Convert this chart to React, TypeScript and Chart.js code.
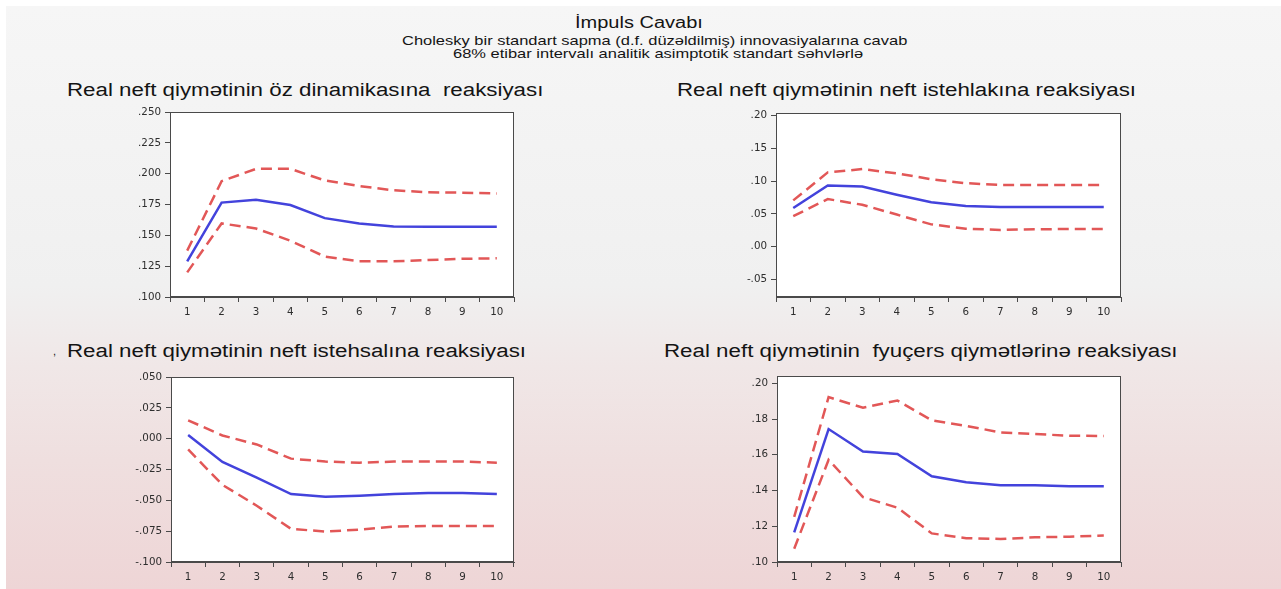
import React, { useEffect, useRef } from "react";
import { Chart, registerables } from "chart.js";

Chart.register(...registerables);

// ---------- data ----------
const periods = ["1", "2", "3", "4", "5", "6", "7", "8", "9", "10"];

// Panel 1: own dynamics
const p1Response = [0.129, 0.1766, 0.179, 0.1747, 0.164, 0.1597, 0.1573, 0.157, 0.157, 0.157];
const p1Upper = [0.1376, 0.194, 0.204, 0.204, 0.1946, 0.19, 0.1866, 0.185, 0.1847, 0.184];
const p1Lower = [0.12, 0.1597, 0.1556, 0.1457, 0.1328, 0.129, 0.129, 0.13, 0.131, 0.1314];
const p1TickValues = [0.1, 0.125, 0.15, 0.175, 0.2, 0.225, 0.25];
const p1TickLabels = [".100", ".125", ".150", ".175", ".200", ".225", ".250"];

// Panel 2: oil consumption
const p2Response = [0.059, 0.0934, 0.092, 0.0793, 0.0677, 0.0622, 0.0607, 0.0607, 0.0607, 0.0607];
const p2Upper = [0.0707, 0.1135, 0.1185, 0.112, 0.103, 0.097, 0.0944, 0.0944, 0.0944, 0.0944];
const p2Lower = [0.0466, 0.0727, 0.064, 0.049, 0.034, 0.0275, 0.0255, 0.0265, 0.027, 0.027];
const p2TickValues = [-0.05, 0.0, 0.05, 0.1, 0.15, 0.2];
const p2TickLabels = ["-.05", ".00", ".05", ".10", ".15", ".20"];

// Panel 3: oil production
const p3Response = [0.003, -0.0188, -0.0315, -0.0449, -0.047, -0.0462, -0.0449, -0.0441, -0.0441, -0.0449];
const p3Upper = [0.015, 0.0027, -0.0046, -0.0161, -0.0185, -0.0194, -0.0185, -0.0185, -0.0185, -0.0194];
const p3Lower = [-0.0086, -0.0374, -0.0543, -0.0731, -0.0753, -0.0737, -0.0712, -0.0707, -0.0707, -0.0707];
const p3TickValues = [-0.1, -0.075, -0.05, -0.025, 0.0, 0.025, 0.05];
const p3TickLabels = ["-.100", "-.075", "-.050", "-.025", ".000", ".025", ".050"];

// Panel 4: futures prices
const p4Response = [0.1166, 0.1744, 0.1618, 0.1605, 0.148, 0.1446, 0.143, 0.143, 0.1424, 0.1424];
const p4Upper = [0.1253, 0.1923, 0.1863, 0.1904, 0.1793, 0.1762, 0.1725, 0.1716, 0.1707, 0.1705];
const p4Lower = [0.1074, 0.1572, 0.1363, 0.1304, 0.116, 0.1133, 0.1129, 0.1138, 0.1142, 0.1148];
const p4TickValues = [0.1, 0.12, 0.14, 0.16, 0.18, 0.2];
const p4TickLabels = [".10", ".12", ".14", ".16", ".18", ".20"];

const mainTitle = "İmpuls Cavabı";
const subTitle1 = "Cholesky bir standart sapma (d.f. düzəldilmiş) innovasiyalarına cavab";
const subTitle2 = "68% etibar intervalı analitik asimptotik standart səhvlərlə";
const panelTitles = [
  "Real neft qiymətinin öz dinamikasına  reaksiyası",
  "Real neft qiymətinin neft istehlakına reaksiyası",
  "Real neft qiymətinin neft istehsalına reaksiyası",
  "Real neft qiymətinin  fyuçers qiymətlərinə reaksiyası",
];

// ---------- styles ----------
const FONT = "'Liberation Sans', Arial, Helvetica, sans-serif";
const TICK_FONT = "'DejaVu Sans', Verdana, sans-serif";
const BLUE = "#4343dc";
const RED = "#e25757";
const AXIS = "#4a4a4a";

const boxPlugin = {
  id: "plotBox",
  beforeDraw(chart: any) {
    const { ctx, chartArea } = chart;
    if (!chartArea) return;
    ctx.save();
    ctx.fillStyle = "#ffffff";
    ctx.fillRect(chartArea.left, chartArea.top, chartArea.right - chartArea.left, chartArea.bottom - chartArea.top);
    ctx.restore();
  },
  afterDraw(chart: any) {
    const { ctx, chartArea } = chart;
    if (!chartArea) return;
    ctx.save();
    ctx.strokeStyle = AXIS;
    ctx.lineWidth = 1;
    const l = Math.round(chartArea.left) + 0.5;
    const t = Math.round(chartArea.top) + 0.5;
    const r = Math.round(chartArea.right) - 0.5;
    const b = Math.round(chartArea.bottom) - 0.5;
    ctx.strokeRect(l, t, r - l, b - t);
    ctx.restore();
  },
};

type PanelProps = {
  response: number[];
  upper: number[];
  lower: number[];
  min: number;
  max: number;
  tickValues: number[];
  tickLabels: string[];
  left: number;
  top: number;
  width: number;
  height: number;
};

function Panel(props: PanelProps) {
  const ref = useRef<HTMLCanvasElement | null>(null);
  useEffect(() => {
    if (!ref.current) return;
    const { response, upper, lower, min, max, tickValues, tickLabels } = props;
    const tickFont = { family: TICK_FONT, size: 10.3 };
    const chart = new Chart(ref.current, {
      type: "line",
      data: {
        labels: periods,
        datasets: [
          { data: upper, borderColor: RED, borderWidth: 2.5, borderDash: [11, 6], pointRadius: 0, fill: false, tension: 0 },
          { data: lower, borderColor: RED, borderWidth: 2.5, borderDash: [11, 6], pointRadius: 0, fill: false, tension: 0 },
          { data: response, borderColor: BLUE, borderWidth: 2.5, pointRadius: 0, fill: false, tension: 0 },
        ],
      },
      options: {
        animation: false,
        responsive: false,
        maintainAspectRatio: false,
        devicePixelRatio: 1,
        layout: { padding: { top: 8, right: 1, bottom: 0, left: 0 } },
        plugins: { legend: { display: false }, tooltip: { enabled: false }, title: { display: false } },
        scales: {
          x: {
            type: "category",
            offset: true,
            grid: { display: true, drawOnChartArea: false, drawTicks: true, tickLength: 5, offset: true, color: AXIS },
            border: { display: true, color: AXIS },
            ticks: { font: tickFont, color: "#2e2e2e", padding: 4, maxRotation: 0, autoSkip: false },
            afterFit: (s: any) => {
              s.height = 25;
            },
          },
          y: {
            type: "linear",
            min,
            max,
            grid: { display: true, drawOnChartArea: false, drawTicks: true, tickLength: 5, color: AXIS },
            border: { display: true, color: AXIS },
            ticks: {
              font: tickFont,
              color: "#2e2e2e",
              padding: 4,
              callback: (v: any) => {
                const i = tickValues.findIndex((t) => Math.abs(t - Number(v)) < 1e-9);
                return i >= 0 ? tickLabels[i] : "";
              },
            },
            afterBuildTicks: (s: any) => {
              s.ticks = tickValues.map((v) => ({ value: v }));
            },
            afterFit: (s: any) => {
              s.width = 60;
            },
          },
        },
      },
      plugins: [boxPlugin],
    } as any);
    return () => chart.destroy();
  }, []);
  return (
    <canvas
      ref={ref}
      width={props.width}
      height={props.height}
      style={{ position: "absolute", left: props.left, top: props.top, width: props.width, height: props.height }}
    />
  );
}

function Txt(p: { text: string; left: number; top: number; size: number; stretch: number }) {
  return (
    <div
      style={{
        position: "absolute",
        left: p.left,
        top: p.top,
        fontFamily: FONT,
        fontSize: p.size,
        lineHeight: 1,
        whiteSpace: "pre",
        color: "#141414",
        transform: `scaleX(${p.stretch})`,
        transformOrigin: "0 0",
      }}
    >
      {p.text}
    </div>
  );
}

export default function App() {
  return (
    <div style={{ position: "absolute", left: 0, top: 0, width: 1281, height: 589, background: "#ffffff", overflow: "hidden" }}>
      <div
        style={{
          position: "absolute",
          left: 6,
          top: 6,
          width: 1275,
          height: 583,
          background: "linear-gradient(to bottom, #f6f6f6 0%, #f0f0f0 48%, #f0e7e7 62%, #efdfdf 78%, #eed5d6 100%)",
        }}
      />
      <Txt text={mainTitle} left={575} top={15.2} size={16} stretch={1.25} />
      <Txt text={subTitle1} left={402} top={33.9} size={13.5} stretch={1.22} />
      <Txt text={subTitle2} left={453} top={47.3} size={13.5} stretch={1.22} />

      <Txt text={panelTitles[0]} left={66.7} top={80.5} size={18} stretch={1.24} />
      <Txt text={panelTitles[1]} left={676.7} top={80.5} size={18} stretch={1.24} />
      <Txt text="," left={53} top={346} size={11} stretch={1} />
      <Txt text={panelTitles[2]} left={66.7} top={341.8} size={18} stretch={1.24} />
      <Txt text={panelTitles[3]} left={664} top={341.8} size={18} stretch={1.24} />

      <Panel response={p1Response} upper={p1Upper} lower={p1Lower} min={0.1} max={0.25}
        tickValues={p1TickValues} tickLabels={p1TickLabels} left={110} top={102} width={405} height={220} />
      <Panel response={p2Response} upper={p2Upper} lower={p2Lower} min={-0.077} max={0.204}
        tickValues={p2TickValues} tickLabels={p2TickLabels} left={716} top={103} width={406} height={219} />
      <Panel response={p3Response} upper={p3Upper} lower={p3Lower} min={-0.1} max={0.05}
        tickValues={p3TickValues} tickLabels={p3TickLabels} left={111} top={367} width={404} height={220} />
      <Panel response={p4Response} upper={p4Upper} lower={p4Lower} min={0.1} max={0.204}
        tickValues={p4TickValues} tickLabels={p4TickLabels} left={717} top={366} width={405} height={221} />
    </div>
  );
}
